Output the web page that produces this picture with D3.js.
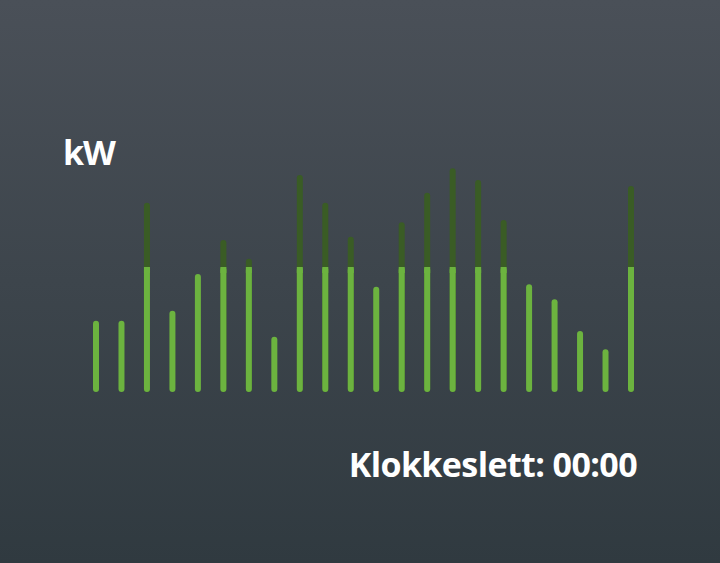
<!DOCTYPE html>
<html>
<head>
<meta charset="utf-8">
<script src="https://cdn.jsdelivr.net/npm/d3@7"></script>
<style>
  html, body { margin: 0; padding: 0; }
  body { width: 720px; height: 563px; overflow: hidden; }
  text { font-family: "Open Sans", sans-serif; font-weight: 700; fill: #ffffff; }
</style>
</head>
<body>
<div id="chart"></div>
<script>
/*
 * Data: one bar per hour, in kW.
 */
var hours = ["01", "02", "03", "04", "05", "06", "07", "08", "09", "10", "11",
             "12", "13", "14", "15", "16", "17", "18", "19", "20", "21", "22"]
  , usage = [2.85, 2.85, 7.57, 3.25, 4.72, 6.08, 5.33, 2.21, 8.68, 7.57, 6.21,
             4.21, 6.79, 7.97, 8.95, 8.48, 6.88, 4.31, 3.71, 2.44, 1.71, 8.24]
  , limit = 5
  , unitLabel = "kW"
  , timeLabel = "Klokkeslett: 00:00";

var width = 720
  , height = 563
  , barWidth = 6
  , light = "#6cb33f"
  , dark = "#3a5c25";

var svg = d3.select('#chart').append('svg')
  .attr('width', width)
  .attr('height', height);

// background gradient
var grad = svg.append('defs').append('linearGradient')
  .attr('id', 'bg')
  .attr('x1', 0).attr('y1', 0)
  .attr('x2', 0).attr('y2', 1);
grad.append('stop').attr('offset', '0%').attr('stop-color', '#4a5058');
grad.append('stop').attr('offset', '100%').attr('stop-color', '#303a40');

svg.append('rect')
  .attr('width', width)
  .attr('height', height)
  .attr('fill', 'url(#bg)');

var x = d3.scalePoint()
  .domain(hours)
  .range([96, 631]);

var y = d3.scaleLinear()
  .domain([0, 10])
  .range([392, 142]);

var data = hours.map(function(h, i) {
  return { hour: h, value: usage[i] };
});

var bars = svg.append('g').selectAll('g')
  .data(data)
  .enter()
  .append('g');

// part above the limit, darker
bars.filter(function(d) { return d.value > limit; })
  .append('rect')
  .attr('x', function(d) { return x(d.hour) - barWidth / 2; })
  .attr('y', function(d) { return y(d.value); })
  .attr('width', barWidth)
  .attr('height', function(d) { return y(0) - y(d.value); })
  .attr('rx', barWidth / 2)
  .attr('fill', dark);

// part up to the limit
bars.append('rect')
  .attr('x', function(d) { return x(d.hour) - barWidth / 2; })
  .attr('y', function(d) { return y(Math.min(d.value, limit)); })
  .attr('width', barWidth)
  .attr('height', function(d) { return y(0) - y(Math.min(d.value, limit)); })
  .attr('rx', barWidth / 2)
  .attr('fill', light);

// square off the light top where it meets the dark part
bars.filter(function(d) { return d.value > limit; })
  .append('rect')
  .attr('x', function(d) { return x(d.hour) - barWidth / 2; })
  .attr('y', y(limit))
  .attr('width', barWidth)
  .attr('height', barWidth)
  .attr('fill', light);

svg.append('text')
  .attr('x', 63)
  .attr('y', 165)
  .style('font-size', '34px')
  .style('letter-spacing', '-1px')
  .text(unitLabel);

svg.append('text')
  .attr('x', 637)
  .attr('y', 477)
  .attr('text-anchor', 'end')
  .style('font-size', '34px')
  .style('letter-spacing', '-0.6px')
  .text(timeLabel);
</script>
</body>
</html>
